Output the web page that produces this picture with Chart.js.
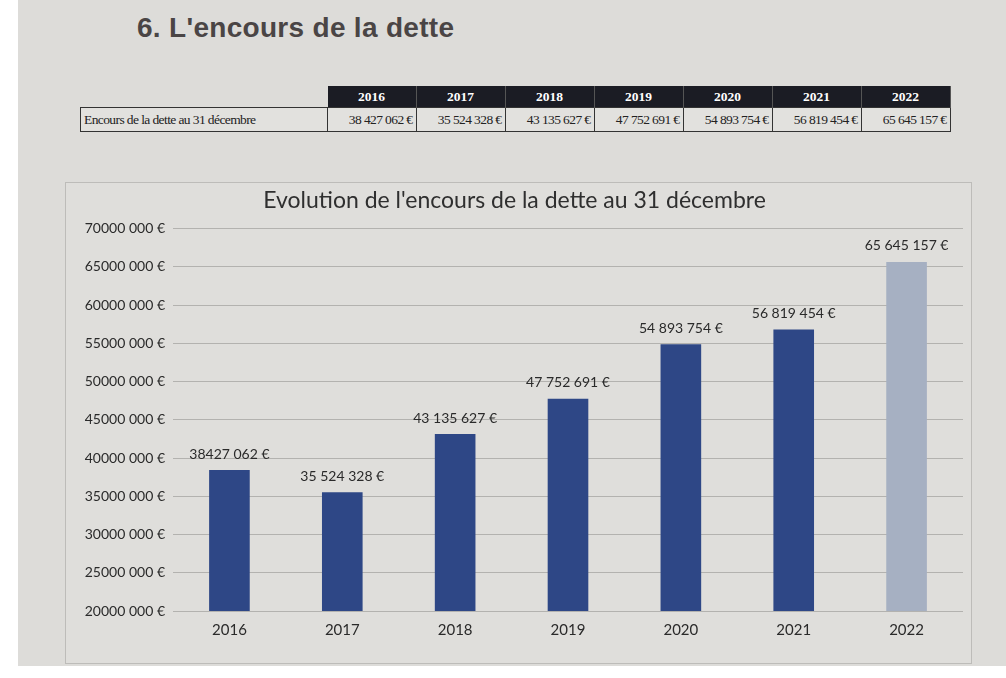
<!DOCTYPE html>
<html>
<head>
<meta charset="utf-8">
<script src="https://cdn.jsdelivr.net/npm/chart.js@4/dist/chart.umd.min.js"></script>
<style>
  html, body { margin: 0; padding: 0; width: 1006px; height: 678px; background: #ffffff; overflow: hidden; }
  #paper { position: absolute; left: 18px; top: 0; width: 988px; height: 666px; background: #dddcd9; }
  #title { position: absolute; left: 137px; top: 12px; font-family: "Liberation Sans", Arial, sans-serif; font-weight: bold; font-size: 28px; color: #4a4545; letter-spacing: 0.3px; }
  table { position: absolute; left: 80px; top: 86px; border-collapse: collapse; font-family: "Liberation Serif", "Times New Roman", serif; font-size: 13.5px; }
  th { background: #1b1c24; color: #ffffff; font-weight: bold; height: 21px; width: 88px; padding: 0; text-align: center; border-right: 1px solid #555; }
  th.blank { background: transparent; border: none; width: 247px; }
  td { height: 23px; border: 1px solid #333; padding: 0 3px; text-align: right; color: #222; letter-spacing: -0.6px; background: #e2e1de; }
  td.lab { text-align: left; }
  #box { position: absolute; left: 65px; top: 182px; width: 905px; height: 480px; border: 1px solid #bdbcb9; background: #dfdedb; }
</style>
</head>
<body>
<div id="paper"></div>
<div id="title">6. L'encours de la dette</div>
<table id="tbl"></table>
<div id="box"><canvas id="c" width="905" height="480"></canvas></div>
<script>
const years = ["2016", "2017", "2018", "2019", "2020", "2021", "2022"];
const debt = [38427062, 35524328, 43135627, 47752691, 54893754, 56819454, 65645157];
const tableLabels = ["38 427 062 €", "35 524 328 €", "43 135 627 €", "47 752 691 €", "54 893 754 €", "56 819 454 €", "65 645 157 €"];
const barLabels = ["38427 062 €", "35 524 328 €", "43 135 627 €", "47 752 691 €", "54 893 754 €", "56 819 454 €", "65 645 157 €"];
const rowLabel = "Encours de la dette au 31 décembre";
const chartTitle = "Evolution de l'encours de la dette au 31 décembre";
const yMin = 20000000, yMax = 70000000, yStep = 5000000;
const barColors = ["#2e4786", "#2e4786", "#2e4786", "#2e4786", "#2e4786", "#2e4786", "#a6b0c2"];

// table
const tbl = document.getElementById('tbl');
let h = '<tr><th class="blank"></th>' + years.map(y => '<th>' + y + '</th>').join('') + '</tr>';
h += '<tr><td class="lab">' + rowLabel + '</td>' + tableLabels.map(v => '<td>' + v + '</td>').join('') + '</tr>';
tbl.innerHTML = h;

function fmtTick(v) {
  const s = String(Math.round(v));
  return s.slice(0, s.length - 3) + ' ' + s.slice(-3) + ' €';
}

const labelPlugin = {
  id: 'barLabels',
  afterDatasetsDraw(chart) {
    const ctx = chart.ctx;
    const meta = chart.getDatasetMeta(0);
    ctx.save();
    ctx.font = '14px Lato, "Open Sans", sans-serif';
    ctx.fillStyle = '#2a2a2a';
    ctx.textAlign = 'center';
    ctx.textBaseline = 'bottom';
    meta.data.forEach((bar, i) => {
      ctx.fillText(barLabels[i], bar.x, bar.y - 9);
    });
    ctx.restore();
  }
};

new Chart(document.getElementById('c'), {
  type: 'bar',
  data: {
    labels: years,
    datasets: [{
      data: debt,
      backgroundColor: barColors,
      barPercentage: 0.36,
      categoryPercentage: 1.0
    }]
  },
  options: {
    responsive: false,
    animation: false,
    layout: { padding: { left: 0, right: 8, top: 0, bottom: 14 } },
    plugins: {
      legend: { display: false },
      tooltip: { enabled: false },
      title: {
        display: true,
        text: chartTitle,
        color: '#2f2f2f',
        font: { family: 'Lato, "Open Sans", sans-serif', size: 23, weight: 'normal' },
        padding: { top: 4, bottom: 14 }
      }
    },
    scales: {
      x: {
        grid: { display: false, drawTicks: false },
        border: { display: false },
        ticks: { color: '#2a2a2a', font: { family: 'Lato, "Open Sans", sans-serif', size: 15 }, padding: 10 }
      },
      y: {
        min: yMin, max: yMax,
        afterFit(scale) { scale.width = 107; },
        grid: { color: '#b3b2af', drawTicks: false },
        border: { display: false },
        ticks: {
          stepSize: yStep,
          color: '#2a2a2a',
          padding: 8,
          font: { family: 'Lato, "Open Sans", sans-serif', size: 14 },
          callback: v => fmtTick(v)
        }
      }
    }
  },
  plugins: [labelPlugin]
});
</script>
</body>
</html>
